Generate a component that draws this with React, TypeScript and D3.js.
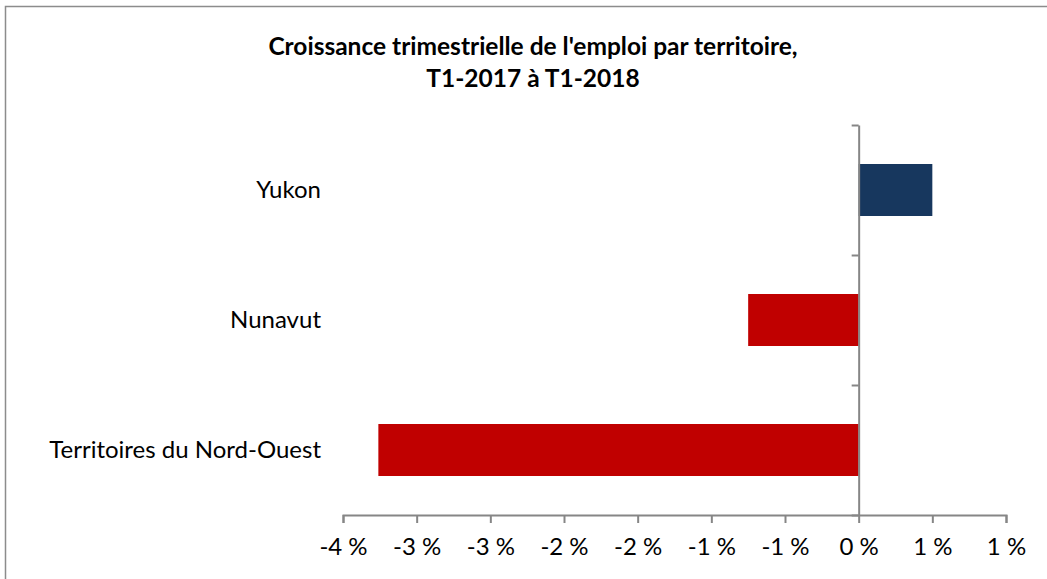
import React, { useEffect, useRef } from "react";
import * as d3 from "d3";

// bottom to top, as in the chart
const territories = ["Territoires du Nord-Ouest", "Nunavut", "Yukon"];
const growth = [-3.26, -0.75, 0.5];
const xTicks = [-3.5, -3, -2.5, -2, -1.5, -1, -0.5, 0, 0.5, 1];
const titleLines = [
  "Croissance trimestrielle de l'emploi par territoire,",
  "T1-2017 à T1-2018",
];

const W = 1047;
const H = 579;
const FONT = "Lato, 'Open Sans', sans-serif";

// Excel style rounding (half away from zero), no decimals
const pct = (v: number) => {
  const r = Math.sign(v) * Math.round(Math.abs(v));
  return (r === 0 ? 0 : r) + " %";
};

export default function App() {
  const ref = useRef<SVGSVGElement>(null);

  useEffect(() => {
    const svg = d3.select(ref.current);
    svg.selectAll("*").remove();

    const margin = { top: 125, right: 41, bottom: 64, left: 343 };
    const x = d3
      .scaleLinear()
      .domain([-3.5, 1])
      .range([margin.left, W - margin.right]);
    const y = d3
      .scaleBand()
      .domain(territories.slice().reverse())
      .range([margin.top, H - margin.bottom])
      .paddingInner(0.6)
      .paddingOuter(0.3);
    const yBounds = d3
      .scaleLinear()
      .domain([0, territories.length])
      .range([H - margin.bottom, margin.top]);

    // frame
    svg
      .append("rect")
      .attr("x", 5.5)
      .attr("y", 6.5)
      .attr("width", W + 10)
      .attr("height", H + 10)
      .attr("fill", "#fff")
      .attr("stroke", "#8c8c8c")
      .attr("stroke-width", 1.5);

    // title
    svg
      .append("g")
      .selectAll("text")
      .data(titleLines)
      .enter()
      .append("text")
      .attr("x", 533)
      .attr("y", (d, i) => 55 + i * 32)
      .attr("text-anchor", "middle")
      .attr("font-family", FONT)
      .attr("font-weight", "bold")
      .attr("font-size", 24.5)
      .attr("fill", "#000")
      .text(d => d);

    // bars
    svg
      .append("g")
      .selectAll("rect")
      .data(territories.map((t, i) => ({ t, v: growth[i] })))
      .enter()
      .append("rect")
      .attr("x", d => x(Math.min(0, d.v)))
      .attr("y", d => y(d.t)!)
      .attr("width", d => Math.abs(x(d.v) - x(0)))
      .attr("height", y.bandwidth())
      .attr("fill", d => (d.v < 0 ? "#c00000" : "#17375e"));

    // x axis
    const gx = svg
      .append("g")
      .attr("transform", `translate(0,${H - margin.bottom})`)
      .call(
        d3
          .axisBottom(x)
          .tickValues(xTicks)
          .tickFormat(d => pct(+d))
          .tickSize(8)
          .tickSizeOuter(8)
          .tickPadding(15)
      );
    gx.select(".domain").attr("stroke", "#868686").attr("stroke-width", 2);
    gx.selectAll(".tick line").attr("stroke", "#868686").attr("stroke-width", 2);
    gx.selectAll(".tick text")
      .attr("font-family", FONT)
      .attr("font-size", 24)
      .attr("fill", "#000");

    // y axis on the zero line, ticks between categories
    const gy = svg
      .append("g")
      .attr("transform", `translate(${x(0)},0)`)
      .call(
        d3
          .axisLeft(yBounds)
          .tickValues(d3.range(0, territories.length + 1))
          .tickFormat(() => "")
          .tickSize(7)
          .tickSizeOuter(0)
      );
    gy.select(".domain").attr("stroke", "#868686").attr("stroke-width", 2);
    gy.selectAll(".tick line").attr("stroke", "#868686").attr("stroke-width", 2);

    // category labels
    svg
      .append("g")
      .selectAll("text")
      .data(territories)
      .enter()
      .append("text")
      .attr("x", margin.left - 22)
      .attr("y", d => y(d)! + y.bandwidth() / 2)
      .attr("dy", "0.35em")
      .attr("text-anchor", "end")
      .attr("font-family", FONT)
      .attr("font-size", 24)
      .attr("fill", "#000")
      .text(d => d);
  }, []);

  return (
    <svg
      ref={ref}
      width={W}
      height={H}
      style={{ position: "absolute", left: 0, top: 0, display: "block" }}
    />
  );
}
